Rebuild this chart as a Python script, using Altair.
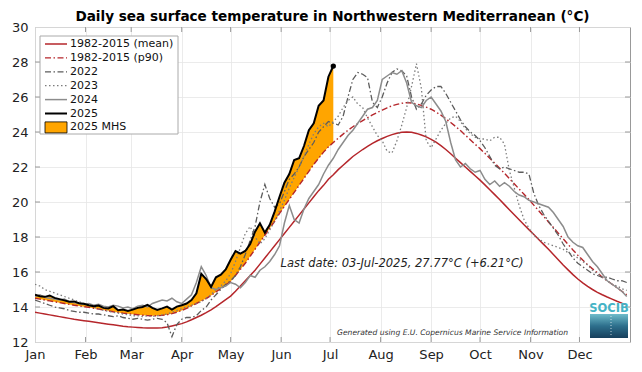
import altair as alt
import pandas as pd
import numpy as np

# ---------------- data ----------------
months = ["Jan", "Feb", "Mar", "Apr", "May", "Jun", "Jul", "Aug", "Sep", "Oct", "Nov", "Dec"]
month_start_days = [0, 31, 59, 90, 120, 151, 181, 212, 243, 273, 304, 334]
y_ticks = [12, 14, 16, 18, 20, 22, 24, 26, 28, 30]
day_step = 3  # values below are read every 3 days starting on 1 January

clim_mean = [13.70, 13.65, 13.60, 13.55, 13.50, 13.45, 13.40, 13.35, 13.30, 13.26, 13.22, 13.18, 13.14, 13.10, 13.06, 13.02,
             12.98, 12.94, 12.90, 12.87, 12.85, 12.83, 12.81, 12.80, 12.80, 12.80, 12.82, 12.86, 12.92, 12.98, 13.05, 13.15,
             13.27, 13.40, 13.53, 13.68, 13.84, 14.02, 14.22, 14.42, 14.62, 14.90, 15.20, 15.50, 15.80, 16.10, 16.45, 16.80,
             17.15, 17.50, 17.85, 18.20, 18.55, 18.90, 19.25, 19.60, 19.95, 20.30, 20.65, 20.95, 21.30, 21.56, 21.85, 22.10,
             22.35, 22.60, 22.80, 23.00, 23.18, 23.35, 23.50, 23.63, 23.75, 23.85, 23.93, 23.98, 24.00, 23.98, 23.92, 23.83,
             23.72, 23.58, 23.42, 23.22, 23.00, 22.76, 22.50, 22.25, 22.00, 21.75, 21.50, 21.25, 20.98, 20.70, 20.42, 20.14,
             19.85, 19.56, 19.27, 18.98, 18.70, 18.42, 18.14, 17.86, 17.58, 17.30, 17.00, 16.70, 16.40, 16.12, 15.85, 15.60,
             15.38, 15.18, 15.00, 14.84, 14.70, 14.57, 14.45, 14.33, 14.22, 14.12]

clim_p90 = [14.50, 14.45, 14.40, 14.35, 14.30, 14.25, 14.20, 14.15, 14.10, 14.06, 14.02, 13.98, 13.93, 13.88, 13.83, 13.78,
            13.73, 13.69, 13.65, 13.62, 13.59, 13.56, 13.53, 13.51, 13.50, 13.50, 13.52, 13.56, 13.62, 13.70, 13.80, 13.92,
            14.06, 14.20, 14.34, 14.48, 14.66, 14.86, 15.06, 15.26, 15.46, 15.80, 16.15, 16.50, 16.90, 17.30, 17.70, 18.10,
            18.50, 18.90, 19.35, 19.75, 20.15, 20.55, 20.95, 21.35, 21.75, 22.15, 22.50, 22.85, 23.15, 23.40, 23.65, 23.88,
            24.10, 24.30, 24.48, 24.65, 24.82, 24.98, 25.12, 25.25, 25.38, 25.50, 25.58, 25.64, 25.68, 25.66, 25.60, 25.52,
            25.42, 25.30, 25.14, 24.96, 24.76, 24.54, 24.32, 24.08, 23.82, 23.56, 23.30, 23.05, 22.78, 22.50, 22.22, 21.93,
            21.64, 21.34, 21.04, 20.74, 20.44, 20.14, 19.82, 19.50, 19.18, 18.86, 18.54, 18.22, 17.90, 17.58, 17.26, 16.96,
            16.68, 16.42, 16.18, 15.96, 15.70, 15.50, 15.30, 15.10, 14.90, 14.70]

sst_2022 = [14.40, 14.30, 14.20, 14.10, 14.00, 13.95, 13.90, 13.80, 13.75, 13.70, 13.70, 13.65, 13.60, 13.60, 13.55, 13.50,
            13.45, 13.50, 13.40, 13.35, 13.30, 13.35, 13.30, 13.25, 13.30, 13.35, 13.30, 13.10, 12.30, 13.00, 13.30, 13.40,
            13.40, 13.50, 13.80, 14.00, 14.40, 14.70, 15.00, 15.30, 15.50, 15.80, 16.30, 17.00, 17.80, 18.60, 20.00, 21.00,
            20.20, 19.70, 19.90, 20.60, 21.30, 21.60, 22.00, 22.60, 23.00, 23.40, 24.00, 24.30, 24.60, 24.50, 24.40, 24.90,
            26.00, 27.00, 27.40, 27.30, 27.10, 25.70, 25.40, 26.00, 26.80, 27.40, 27.60, 27.50, 27.20, 26.00, 25.30, 25.60,
            26.10, 26.40, 26.60, 26.60, 26.20, 25.70, 25.20, 24.70, 24.30, 24.00, 23.80, 23.50, 23.10, 22.60, 22.10, 21.90,
            22.00, 21.90, 21.80, 21.70, 21.70, 21.60, 20.50, 19.80, 19.30, 18.90, 18.50, 18.10, 17.60, 17.20, 16.80, 16.50,
            16.30, 16.10, 15.90, 15.80, 15.70, 15.70, 15.60, 15.50, 15.50, 15.40]

sst_2023 = [15.30, 15.20, 15.00, 14.90, 14.80, 14.70, 14.60, 14.50, 14.40, 14.30, 14.20, 14.10, 14.00, 13.90, 13.80, 13.75,
            13.70, 13.65, 13.60, 13.55, 13.50, 13.50, 13.45, 13.50, 13.45, 13.50, 13.55, 13.60, 13.70, 13.80, 13.90, 14.00,
            14.10, 14.20, 14.30, 14.50, 14.70, 15.00, 15.20, 15.50, 15.90, 16.60, 17.40, 18.20, 18.60, 18.00, 17.60, 17.90,
            18.40, 18.90, 19.50, 20.10, 20.80, 21.40, 22.00, 22.60, 23.30, 23.90, 24.30, 24.50, 24.30, 24.60, 24.90, 25.40,
            25.80, 26.00, 25.60, 25.40, 24.80, 24.30, 23.80, 23.50, 22.90, 22.80, 23.50, 24.40, 25.40, 26.60, 27.90, 26.50,
            23.50, 23.10, 23.60, 24.10, 24.50, 24.80, 24.90, 24.60, 24.20, 23.90, 23.70, 23.60, 23.60, 23.50, 23.70, 23.70,
            23.30, 21.80, 20.80, 19.80, 19.00, 18.50, 18.10, 17.90, 17.70, 17.60, 17.50, 17.40, 17.30, 17.10, 17.00, 16.80,
            16.60, 16.40, 16.10, 15.90, 15.70, 15.50, 15.30, 15.20, 15.05, 14.95]

sst_2024 = [14.60, 14.70, 14.55, 14.50, 14.45, 14.40, 14.45, 14.30, 14.25, 14.20, 14.15, 14.20, 14.10, 14.15, 14.05, 14.00,
            14.10, 14.05, 13.95, 14.00, 13.90, 14.05, 14.10, 14.00, 14.20, 14.30, 14.40, 14.35, 14.50, 14.30, 14.20, 14.45,
            14.70, 15.40, 16.30, 15.80, 15.10, 15.00, 15.10, 15.20, 15.40, 15.30, 15.10, 15.40, 15.80, 15.70, 16.10, 16.30,
            16.60, 17.00, 17.50, 18.80, 19.80, 19.00, 18.80, 19.60, 20.20, 20.60, 21.00, 21.60, 22.10, 22.50, 23.00, 23.40,
            23.80, 24.10, 24.50, 24.90, 25.30, 25.40, 25.80, 27.00, 27.20, 27.40, 27.30, 27.50, 26.80, 25.70, 25.50, 25.40,
            25.80, 26.00, 25.60, 25.20, 24.60, 23.40, 22.40, 22.00, 22.20, 21.90, 21.70, 21.80, 21.30, 21.00, 21.20, 20.90,
            21.10, 20.90, 20.60, 20.40, 20.30, 20.10, 20.00, 19.90, 19.80, 19.70, 19.40, 19.00, 18.60, 18.00, 17.70, 17.50,
            17.40, 17.00, 16.60, 16.30, 15.90, 15.50, 15.30, 15.10, 14.90, 14.60]

sst_2025 = [14.70, 14.62, 14.58, 14.66, 14.52, 14.45, 14.38, 14.30, 14.32, 14.22, 14.18, 14.10, 14.05, 14.08, 13.95, 13.92,
            14.05, 13.82, 13.85, 13.78, 13.85, 13.95, 14.00, 14.12, 13.95, 13.83, 13.92, 14.02, 13.85, 14.02, 14.10, 14.20,
            14.40, 14.78, 15.90, 15.60, 15.15, 15.70, 15.85, 16.15, 16.70, 17.20, 17.05, 17.20, 17.60, 18.30, 18.78, 18.25,
            18.70, 19.45, 20.30, 21.10, 21.60, 22.40, 22.50, 23.20, 24.10, 24.50, 25.50, 25.80, 27.16, 27.77]

series_names = ["1982-2015 (mean)", "1982-2015 (p90)", "2022", "2023", "2024", "2025", "2025 MHS"]
title_text = "Daily sea surface temperature in Northwestern Mediterranean (°C)"
last_date_text = "Last date: 03-Jul-2025, 27.77°C (+6.21°C)"
credit_text = "Generated using E.U. Copernicus Marine Service Information"

# ---------------- styles ----------------
FONT = "DejaVu Sans"
RED = "#b5262b"
C2022, C2023, C2024 = "#5c5c5c", "#7c7c7c", "#8c8c8c"
ORANGE = "#ffa500"
DASHDOT = [6, 2.5, 1.5, 2.5]
DOT = [1.5, 2.5]
W, H = 595, 315

days_full = list(range(0, day_step * len(clim_mean), day_step))
days_2025 = list(range(0, day_step * len(sst_2025), day_step))


def frame(days, vals):
    return pd.DataFrame({"day": days, "sst": vals})


label_expr = "[" + ",".join(f"'{m}'" for m in months) + "][indexof([" + ",".join(str(d) for d in month_start_days) + "], datum.value)]"

x_enc = alt.X("day:Q", scale=alt.Scale(domain=[0, 365], nice=False, zero=False),
              axis=alt.Axis(values=month_start_days, labelExpr=label_expr, grid=True, gridColor="#e6e6e6",
                            gridWidth=0.8, ticks=False, domain=False, labelFont=FONT, labelFontSize=13,
                            labelColor="#222222", labelPadding=6, title=None, labelFlush=False))
y_enc = alt.Y("sst:Q", scale=alt.Scale(domain=[12, 30], nice=False, zero=False),
              axis=alt.Axis(values=y_ticks, grid=True, gridColor="#e6e6e6", gridWidth=0.8, ticks=False,
                            domain=False, labelFont=FONT, labelFontSize=13, labelColor="#222222",
                            labelPadding=7, title=None, labelFlush=False))

one = pd.DataFrame({"k": [0]})

# ---------------- MHS area ----------------
p90_2025 = np.array(clim_p90[:len(sst_2025)])
mhs = pd.DataFrame({"day": days_2025, "sst": np.maximum(np.array(sst_2025), p90_2025), "p90": p90_2025})
area = alt.Chart(mhs).mark_area(color=ORANGE, opacity=1).encode(x=x_enc, y=y_enc, y2="p90:Q")


def line(days, vals, color, width, dash=None):
    kw = dict(color=color, strokeWidth=width, clip=True)
    if dash:
        kw["strokeDash"] = dash
    return alt.Chart(frame(days, vals)).mark_line(**kw).encode(x=x_enc, y=y_enc)


l_mean = line(days_full, clim_mean, RED, 1.5)
l_p90 = line(days_full, clim_p90, RED, 1.4, DASHDOT)
l_2022 = line(days_full, sst_2022, C2022, 1.3, DASHDOT)
l_2023 = line(days_full, sst_2023, C2023, 1.3, DOT)
l_2024 = line(days_full, sst_2024, C2024, 1.5)
l_2025 = line(days_2025, sst_2025, "black", 2.0)
end_pt = alt.Chart(frame(days_2025[-1:], sst_2025[-1:])).mark_circle(color="black", size=28, opacity=1).encode(x=x_enc, y=y_enc)

# ---------------- inward frame ticks ----------------
ticks_x = pd.DataFrame({"day": month_start_days[1:]})
ticks_y = pd.DataFrame({"sst": y_ticks[1:-1]})
tk = dict(color="#999999", thickness=1, size=5, opacity=1)
tick_top = alt.Chart(ticks_x).mark_tick(orient="vertical", **tk).encode(x=x_enc, y=alt.value(2.5))
tick_bot = alt.Chart(ticks_x).mark_tick(orient="vertical", **tk).encode(x=x_enc, y=alt.value(H - 2.5))
tick_left = alt.Chart(ticks_y).mark_tick(orient="horizontal", **tk).encode(y=y_enc, x=alt.value(2.5))
tick_right = alt.Chart(ticks_y).mark_tick(orient="horizontal", **tk).encode(y=y_enc, x=alt.value(W - 2.5))

# ---------------- annotations ----------------
txt_last = alt.Chart(one).mark_text(text=last_date_text, font=FONT, fontSize=11.5, fontStyle="italic",
                                    color="#222222", align="center", baseline="alphabetic").encode(
    x=alt.value(367), y=alt.value(240))
txt_credit = alt.Chart(one).mark_text(text=credit_text, font=FONT, fontSize=7.6, fontStyle="italic",
                                      color="#333333", align="right", baseline="alphabetic").encode(
    x=alt.value(533), y=alt.value(308))

# SOCIB logo
logo_rect = alt.Chart(one).mark_rect(
    color=alt.Gradient(gradient="linear", x1=0, y1=0, x2=0, y2=1,
                       stops=[alt.GradientStop(color="#6fbccb", offset=0),
                              alt.GradientStop(color="#2d6f8c", offset=0.5),
                              alt.GradientStop(color="#173f5c", offset=1)])
).encode(x=alt.value(555), x2=alt.value(593), y=alt.value(287), y2=alt.value(311))
logo_line = alt.Chart(one).mark_rule(color="white", strokeDash=[1, 2], strokeWidth=1, opacity=0.7).encode(
    x=alt.value(576), y=alt.value(289), y2=alt.value(309))
logo_text = alt.Chart(one).mark_text(text="SOCIB", font=FONT, fontSize=11.5, fontWeight="bold", color="#45b3c6",
                                     align="center", baseline="alphabetic").encode(x=alt.value(574), y=alt.value(285))

# ---------------- legend ----------------
LEG_X0, LEG_X1, LEG_Y0, LEG_Y1 = 5, 143, 9, 107
leg_box = alt.Chart(one).mark_rect(fill="white", stroke="#aaaaaa", strokeWidth=1).encode(
    x=alt.value(LEG_X0), x2=alt.value(LEG_X1), y=alt.value(LEG_Y0), y2=alt.value(LEG_Y1))
leg_styles = [(RED, None, 1.5), (RED, DASHDOT, 1.4), (C2022, DASHDOT, 1.3), (C2023, DOT, 1.3),
              (C2024, None, 1.5), ("black", None, 2.0)]
leg_layers = [leg_box]
row_y0, row_dy = 17, 13.9
for i, name in enumerate(series_names):
    yy = row_y0 + i * row_dy
    if i < len(leg_styles):
        col, dash, wd = leg_styles[i]
        kw = dict(color=col, strokeWidth=wd)
        if dash:
            kw["strokeDash"] = dash
        leg_layers.append(alt.Chart(one).mark_rule(**kw).encode(
            x=alt.value(10), x2=alt.value(32), y=alt.value(yy)))
    else:
        leg_layers.append(alt.Chart(one).mark_rect(fill=ORANGE, stroke="black", strokeWidth=0.8).encode(
            x=alt.value(10), x2=alt.value(32), y=alt.value(yy - 5.5), y2=alt.value(yy + 5.5)))
    leg_layers.append(alt.Chart(pd.DataFrame({"label": [name]})).mark_text(
        font=FONT, fontSize=11, color="#111111", align="left", baseline="middle").encode(
        x=alt.value(35), y=alt.value(yy), text="label:N"))

chart = alt.layer(
    area, l_mean, l_p90, l_2022, l_2023, l_2024, l_2025, end_pt,
    tick_top, tick_bot, tick_left, tick_right,
    txt_last, txt_credit, logo_rect, logo_line, logo_text,
    *leg_layers
).properties(
    width=W, height=H,
    title=alt.TitleParams(title_text, font=FONT, fontSize=13.6, fontWeight="bold", anchor="middle",
                          offset=6, dy=9, color="black"),
    autosize=alt.AutoSizeParams(type="none"),
    padding={"left": 27, "top": 19, "right": 4, "bottom": 22},
).configure_view(stroke="#999999", strokeWidth=1)

chart.save("out.html", embed_options={"renderer": "svg", "actions": False})
